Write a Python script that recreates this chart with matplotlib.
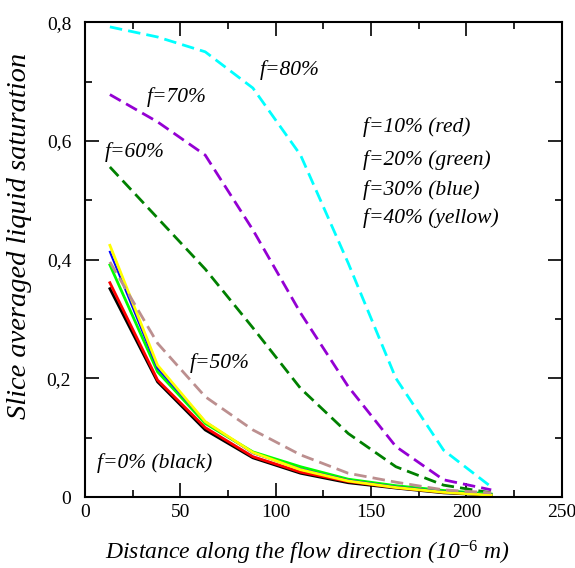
import matplotlib
matplotlib.use("Agg")
import matplotlib.pyplot as plt
from matplotlib.ticker import MultipleLocator, FuncFormatter

plt.rcParams['font.family'] = ['Liberation Serif', 'DejaVu Serif']
plt.rcParams['mathtext.fontset'] = 'custom'
plt.rcParams['mathtext.rm'] = 'Liberation Serif'
plt.rcParams['mathtext.it'] = 'Liberation Serif:italic'

# distance along the flow direction (1e-6 m)
x = [13, 38, 63, 88, 113, 138, 163, 188, 213]

# slice averaged liquid saturation for each f
s_f0 = [0.351, 0.194, 0.113, 0.066, 0.040, 0.024, 0.015, 0.007, 0.003]
s_f10 = [0.361, 0.197, 0.117, 0.068, 0.042, 0.026, 0.016, 0.008, 0.004]
s_f20 = [0.391, 0.211, 0.124, 0.076, 0.051, 0.030, 0.019, 0.011, 0.005]
s_f30 = [0.413, 0.217, 0.127, 0.074, 0.047, 0.028, 0.017, 0.009, 0.004]
s_f40 = [0.424, 0.222, 0.127, 0.075, 0.046, 0.027, 0.016, 0.008, 0.003]
s_f50 = [0.396, 0.259, 0.169, 0.113, 0.071, 0.040, 0.025, 0.012, 0.007]
s_f60 = [0.556, 0.470, 0.384, 0.285, 0.183, 0.107, 0.051, 0.020, 0.007]
s_f70 = [0.678, 0.632, 0.576, 0.450, 0.310, 0.186, 0.085, 0.029, 0.012]
s_f80 = [0.792, 0.775, 0.750, 0.689, 0.576, 0.394, 0.200, 0.079, 0.017]

fig = plt.figure(figsize=(5.75, 5.68), dpi=100)
ax = fig.add_axes([0.148, 0.125, 0.829, 0.836])

dash = (4.5, 2.2)
ax.plot(x, s_f80, color='cyan', lw=2, dashes=dash)
ax.plot(x, s_f70, color='#9400d3', lw=2, dashes=dash)
ax.plot(x, s_f60, color='green', lw=2, dashes=dash)
ax.plot(x, s_f0, color='black', lw=2)
ax.plot(x, s_f10, color='red', lw=2)
ax.plot(x, s_f20, color='lime', lw=2)
ax.plot(x, s_f30, color='blue', lw=1.5)
ax.plot(x, s_f40, color='yellow', lw=2)
ax.plot(x, s_f50, color='#bc8f8f', lw=2, dashes=dash)

ax.set_xlim(0, 250)
ax.set_ylim(0, 0.8)
ax.xaxis.set_major_locator(MultipleLocator(50))
ax.xaxis.set_minor_locator(MultipleLocator(25))
ax.yaxis.set_major_locator(MultipleLocator(0.2))
ax.yaxis.set_minor_locator(MultipleLocator(0.1))
ax.yaxis.set_major_formatter(FuncFormatter(lambda v, p: '0' if abs(v) < 1e-9 else ('%.1f' % v).replace('.', ',')))
ax.tick_params(which='both', direction='in', top=True, right=True, labelsize=14, width=1.2)
ax.tick_params(which='major', length=10)
ax.tick_params(which='minor', length=5)
ax.tick_params(axis='y', which='major', pad=10)
ax.tick_params(axis='x', which='major', pad=5)
for sp in ax.spines.values():
    sp.set_linewidth(1.5)

ax.set_xlabel('Distance along the flow direction (10$^{\\mathit{-6}}$ m)', fontsize=17, style='italic')
ax.set_ylabel('Slice averaged liquid saturation', fontsize=20.5, style='italic')
ax.xaxis.set_label_coords(0.465, -0.087)
ax.yaxis.set_label_coords(-0.112, 0.549)

kw = dict(fontsize=15.5, style='italic', va='center')
ax.text(91.6, 0.719, 'f=80%', **kw)
ax.text(32.2, 0.674, 'f=70%', **kw)
ax.text(10.3, 0.582, 'f=60%', **kw)
ax.text(54.9, 0.226, 'f=50%', **kw)
ax.text(6, 0.057, 'f=0% (black)', **kw)
ax.text(145.6, 0.624, 'f=10% (red)', **kw)
ax.text(145.6, 0.568, 'f=20% (green)', **kw)
ax.text(145.6, 0.517, 'f=30% (blue)', **kw)
ax.text(145.6, 0.470, 'f=40% (yellow)', **kw)

fig.savefig('out.png', dpi=100)
